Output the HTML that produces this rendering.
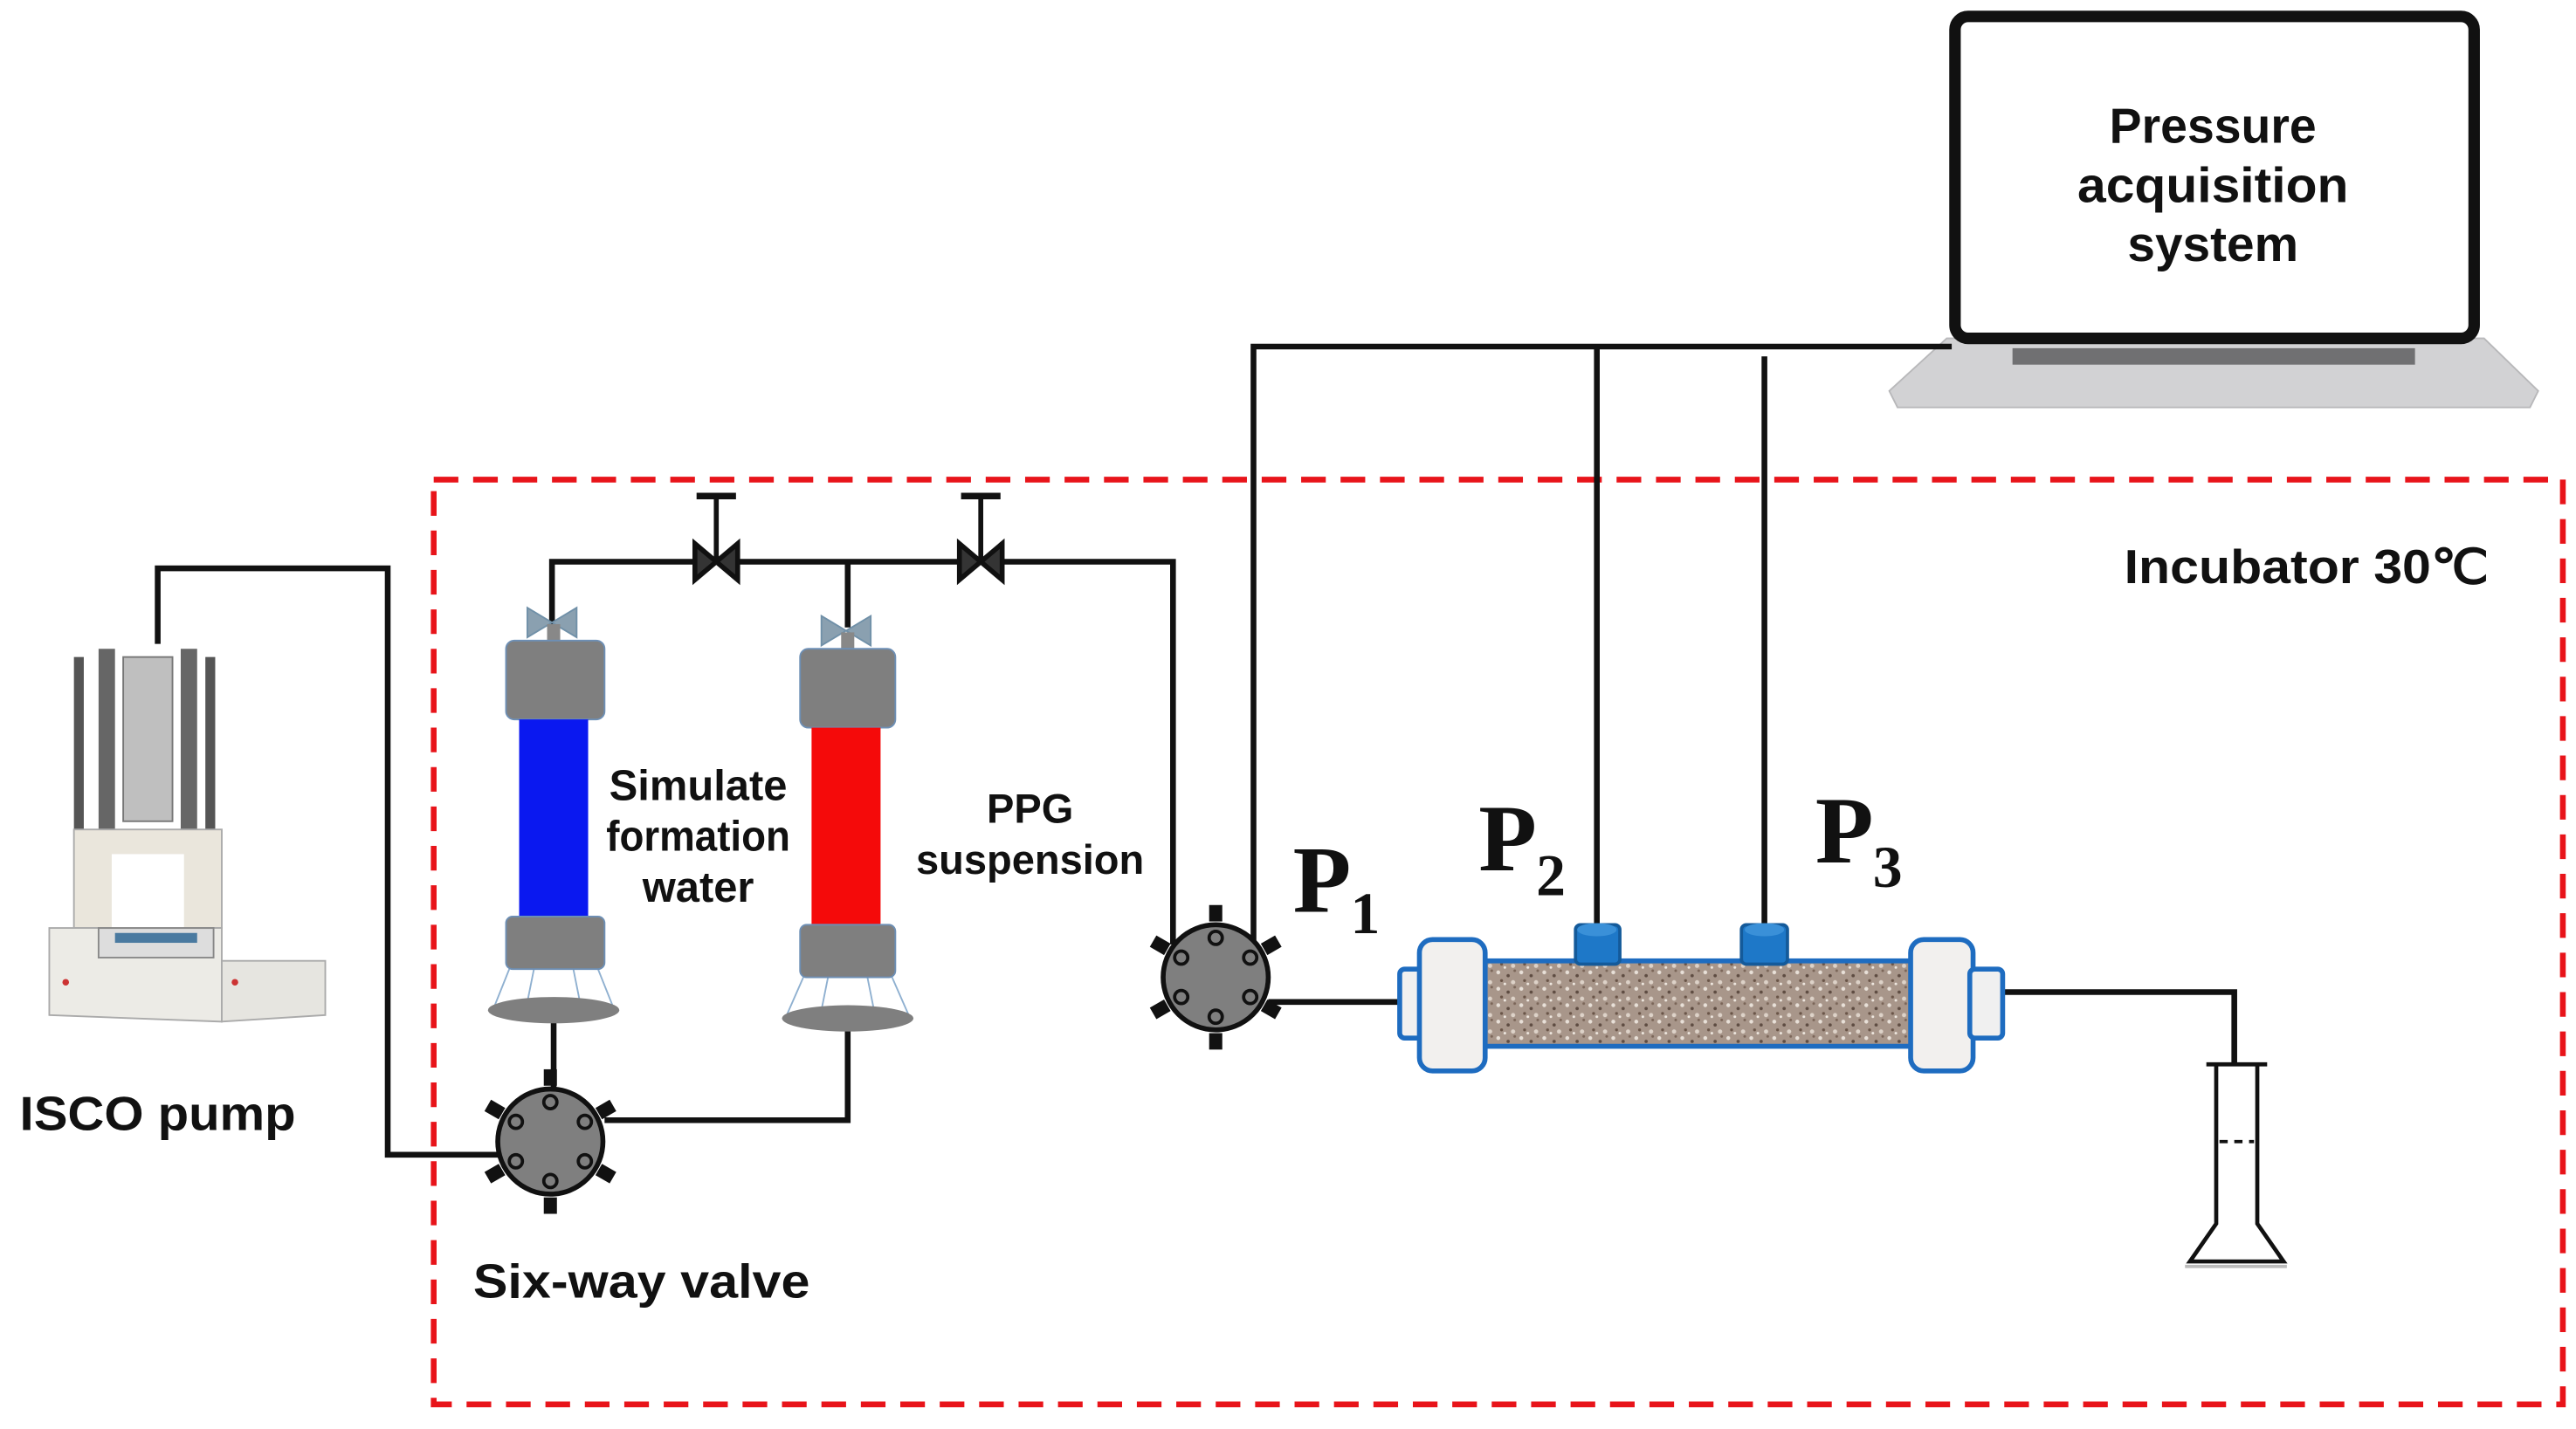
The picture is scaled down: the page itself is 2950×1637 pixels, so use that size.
<!DOCTYPE html>
<html><head><meta charset="utf-8">
<style>
html,body{margin:0;padding:0;background:#fff;}
svg{display:block;}
text{font-family:"Liberation Sans",sans-serif;font-weight:bold;fill:#111;}
.serif{font-family:"Liberation Serif",serif;}
</style></head><body>
<svg width="2950" height="1637" viewBox="0 0 1568 870" preserveAspectRatio="none" xmlns="http://www.w3.org/2000/svg">
<defs>
<pattern id="sand" width="14" height="10" patternUnits="userSpaceOnUse">
<rect width="14" height="10" fill="#a8968a"/>
<circle cx="2" cy="2" r="1.2" fill="#e8e0d8"/><circle cx="8" cy="4" r="1" fill="#5e4c42"/>
<circle cx="11" cy="8" r="1.3" fill="#ddd2c8"/><circle cx="4" cy="7" r="0.9" fill="#6a5548"/>
<circle cx="12" cy="1" r="0.8" fill="#7a6558"/><circle cx="6" cy="9" r="0.8" fill="#efe8e0"/>
</pattern>
<g id="valve">
<circle r="32" fill="#7f7f7f" stroke="#111" stroke-width="3"/>
<g fill="#111">
<rect x="-4" y="-44" width="8" height="10"/><rect x="-4" y="34" width="8" height="10"/>
<g transform="rotate(60)"><rect x="-4" y="-44" width="8" height="10"/><rect x="-4" y="34" width="8" height="10"/></g>
<g transform="rotate(-60)"><rect x="-4" y="-44" width="8" height="10"/><rect x="-4" y="34" width="8" height="10"/></g>
</g>
<g fill="none" stroke="#111" stroke-width="2">
<circle cx="0" cy="-24" r="4"/><circle cx="0" cy="24" r="4"/>
<circle cx="21" cy="-12" r="4"/><circle cx="-21" cy="-12" r="4"/>
<circle cx="21" cy="12" r="4"/><circle cx="-21" cy="12" r="4"/>
</g>
</g>
<g id="needle">
<path d="M-13,-11 L13,11 L13,-11 L-13,11 Z" fill="#fff" stroke="#111" stroke-width="3"/>
<path d="M-13,-11 L0,0 L-13,11 Z M13,-11 L0,0 L13,11 Z" fill="#111" opacity="0.85"/>
<line x1="0" y1="0" x2="0" y2="-40" stroke="#111" stroke-width="3"/>
<line x1="-12" y1="-40" x2="12" y2="-40" stroke="#111" stroke-width="4"/>
</g>
</defs>

<rect x="264" y="292" width="1296" height="563" fill="none" stroke="#e8141a" stroke-width="3.5" stroke-dasharray="15,9"/>

<path d="M1185,206 L1512,206 L1545,238 L1540,248 L1155,248 L1150,238 Z" fill="#d2d2d4" stroke="#b8b8ba" stroke-width="1"/>
<rect x="1225" y="212" width="245" height="10" fill="#707072"/>
<rect x="1190" y="10" width="316" height="196" rx="8" fill="#fff" stroke="#111" stroke-width="7"/>
<text x="1347" y="87" text-anchor="middle" font-size="30" textLength="126" lengthAdjust="spacingAndGlyphs">Pressure</text>
<text x="1347" y="123" text-anchor="middle" font-size="30" textLength="165" lengthAdjust="spacingAndGlyphs">acquisition</text>
<text x="1347" y="159" text-anchor="middle" font-size="30" textLength="104" lengthAdjust="spacingAndGlyphs">system</text>

<g fill="none" stroke="#111" stroke-width="3.5">
<polyline points="1188,211 763,211 763,590"/>
<line x1="972" y1="211" x2="972" y2="568"/>
<line x1="1074" y1="217" x2="1074" y2="568"/>
<polyline points="96,392 96,346 236,346 236,703 303,703"/>
<polyline points="336,382 336,342 714,342 714,575"/>
<line x1="516" y1="342" x2="516" y2="382"/>
<polyline points="337,610 337,665"/>
<polyline points="516,615 516,682 368,682"/>
<line x1="772" y1="610" x2="856" y2="610"/>
<polyline points="1218,604 1360,604 1360,655"/>
</g>

<use href="#needle" x="436" y="342"/>
<use href="#needle" x="597" y="342"/>

<g>
<rect x="45" y="400" width="6" height="170" fill="#555"/>
<rect x="125" y="400" width="6" height="170" fill="#555"/>
<rect x="60" y="395" width="10" height="130" fill="#666"/>
<rect x="110" y="395" width="10" height="130" fill="#666"/>
<rect x="75" y="400" width="30" height="100" fill="#bfbfbf" stroke="#777"/>
<rect x="45" y="505" width="90" height="60" fill="#eae6dc" stroke="#aaa"/>
<rect x="68" y="520" width="44" height="45" fill="#fff"/>
<path d="M30,565 L135,565 L135,622 L30,618 Z" fill="#ecebe6" stroke="#aaa"/>
<rect x="60" y="565" width="70" height="18" fill="#ddd" stroke="#888"/>
<rect x="70" y="568" width="50" height="6" fill="#4a7aa0"/>
<path d="M135,585 L198,585 L198,618 L135,622 Z" fill="#e6e5e0" stroke="#aaa"/>
<circle cx="40" cy="598" r="2" fill="#c33"/><circle cx="143" cy="598" r="2" fill="#c33"/>
</g>
<text x="12" y="688" font-size="29" textLength="168" lengthAdjust="spacingAndGlyphs">ISCO pump</text>

<g>
<path d="M321,370 L351,388 L351,370 L321,388 Z" fill="#8aa0b0" stroke="#7090a8"/>
<rect x="333" y="380" width="8" height="12" fill="#888"/>
<path d="M310,590 L300,615 M364,590 L374,615 M325,590 L320,615 M349,590 L354,615" stroke="#8fb0d0" stroke-width="1"/>
<ellipse cx="337" cy="615" rx="40" ry="8" fill="#7f7f7f"/>
<rect x="308" y="390" width="60" height="48" rx="5" fill="#7f7f7f" stroke="#6d8fb5"/>
<rect x="316" y="438" width="42" height="122" fill="#0a18f0"/>
<rect x="308" y="558" width="60" height="32" rx="4" fill="#7f7f7f" stroke="#6d8fb5"/>
</g>
<g>
<path d="M500,375 L530,393 L530,375 L500,393 Z" fill="#8aa0b0" stroke="#7090a8"/>
<rect x="512" y="385" width="8" height="12" fill="#888"/>
<path d="M489,595 L478,620 M543,595 L554,620 M504,595 L499,620 M528,595 L533,620" stroke="#8fb0d0" stroke-width="1"/>
<ellipse cx="516" cy="620" rx="40" ry="8" fill="#7f7f7f"/>
<rect x="487" y="395" width="58" height="48" rx="5" fill="#7f7f7f" stroke="#6d8fb5"/>
<rect x="494" y="443" width="42" height="122" fill="#f50a0a"/>
<rect x="487" y="563" width="58" height="32" rx="4" fill="#7f7f7f" stroke="#6d8fb5"/>
</g>

<text x="425" y="487" text-anchor="middle" font-size="26">Simulate</text>
<text x="425" y="518" text-anchor="middle" font-size="26" textLength="112" lengthAdjust="spacingAndGlyphs">formation</text>
<text x="425" y="549" text-anchor="middle" font-size="26">water</text>
<text x="627" y="501" text-anchor="middle" font-size="25">PPG</text>
<text x="627" y="532" text-anchor="middle" font-size="25">suspension</text>

<use href="#valve" x="335" y="695"/>
<use href="#valve" x="740" y="595"/>
<text x="288" y="790" font-size="29" textLength="205" lengthAdjust="spacingAndGlyphs">Six-way valve</text>
<text x="1293" y="355" font-size="29" textLength="222" lengthAdjust="spacingAndGlyphs">Incubator 30℃</text>

<text x="787" y="555" class="serif" font-size="58">P</text><text x="822" y="568" class="serif" font-size="36">1</text>
<text x="900" y="530" class="serif" font-size="58">P</text><text x="935" y="545" class="serif" font-size="36">2</text>
<text x="1105" y="525" class="serif" font-size="58">P</text><text x="1140" y="540" class="serif" font-size="36">3</text>

<rect x="900" y="585" width="268" height="52" fill="url(#sand)" stroke="#1e6cc0" stroke-width="3"/>
<rect x="852" y="590" width="20" height="42" rx="3" fill="#f0f0f0" stroke="#1e6cc0" stroke-width="3"/>
<rect x="864" y="572" width="40" height="80" rx="8" fill="#f2f0ee" stroke="#1e6cc0" stroke-width="3"/>
<rect x="1163" y="572" width="38" height="80" rx="8" fill="#f2f0ee" stroke="#1e6cc0" stroke-width="3"/>
<rect x="1199" y="590" width="20" height="42" rx="3" fill="#f0f0f0" stroke="#1e6cc0" stroke-width="3"/>
<rect x="959" y="563" width="27" height="24" rx="3" fill="#1e78c8" stroke="#145a9a" stroke-width="2"/>
<ellipse cx="972" cy="566" rx="12" ry="4" fill="#3a90d8"/>
<rect x="1060" y="563" width="28" height="24" rx="3" fill="#1e78c8" stroke="#145a9a" stroke-width="2"/>
<ellipse cx="1074" cy="566" rx="12" ry="4" fill="#3a90d8"/>

<g fill="#fff" stroke="#111" stroke-width="2.5">
<path d="M1349,648 L1349,745 L1333,768 L1390,768 L1374,745 L1374,648"/>
<line x1="1343" y1="648" x2="1380" y2="648"/>
<line x1="1330" y1="771" x2="1392" y2="771" stroke="#bbb" stroke-width="2"/>
</g>
<line x1="1351" y1="695" x2="1372" y2="695" stroke="#111" stroke-width="2" stroke-dasharray="5,4"/>
</svg>
</body></html>
